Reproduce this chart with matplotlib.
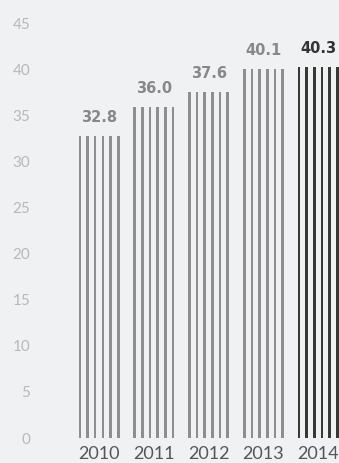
import matplotlib
matplotlib.use("Agg")
import matplotlib.pyplot as plt
import numpy as np

years = ["2010", "2011", "2012", "2013", "2014"]
values = [32.8, 36.0, 37.6, 40.1, 40.3]
y_ticks = [0, 5, 10, 15, 20, 25, 30, 35, 40, 45]

BG = "#f0f1f3"
GREY = "#8e8e8e"
DARK = "#373935"

fig = plt.figure(figsize=(3.39, 4.63), dpi=100, facecolor=BG)
ax = fig.add_axes([40 / 339, 25 / 463, 299 / 339, 438 / 463], facecolor=BG)

x = np.arange(len(years))
colors = [GREY] * (len(years) - 1) + [DARK]

# each bar is drawn as 6 thin vertical stripes
for off in np.linspace(-0.35, 0.35, 6):
    ax.bar(x + off, values, width=0.048, color=colors, linewidth=0)

for xi, v, c in zip(x, values, colors):
    ax.annotate(f"{v:.1f}", (xi, v), xytext=(0, 8), textcoords="offset points",
                ha="center", va="bottom", fontsize=10.5, fontweight="bold",
                color="#888888" if c == GREY else "#333333",
                family="DejaVu Sans")

ax.set_xlim(-1.077, 4.38)
ax.set_ylim(0, 47.6)

ax.set_xticks(x)
ax.set_xticklabels(years, family="Lato", fontsize=13, color="#555555")
ax.set_yticks(y_ticks)
ax.set_yticklabels([str(t) for t in y_ticks], family="Lato", fontsize=11, color="#b8b8b8")
ax.tick_params(axis="x", length=0, pad=6)
ax.tick_params(axis="y", length=0, pad=7)

for s in ax.spines.values():
    s.set_visible(False)

fig.savefig("out.png", dpi=100, facecolor=BG)
